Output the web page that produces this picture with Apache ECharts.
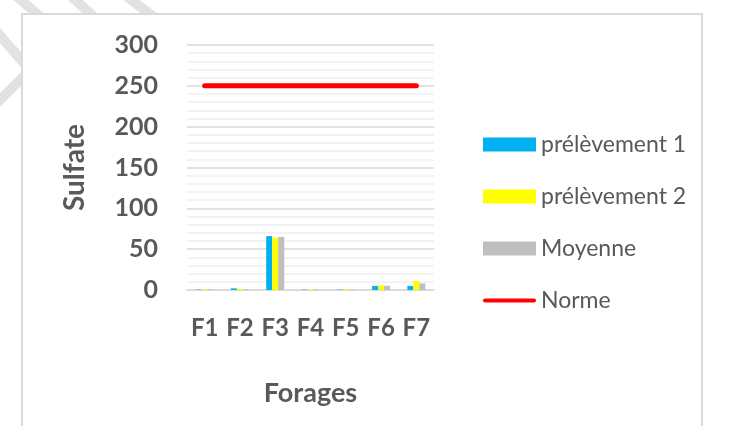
<!DOCTYPE html>
<html>
<head>
<meta charset="utf-8">
<script src="https://cdn.jsdelivr.net/npm/echarts@6/dist/echarts.min.js"></script>
<style>
  html, body { margin: 0; padding: 0; background: #fff; }
  #chart { width: 742px; height: 426px; }
</style>
</head>
<body>
<div id="chart"></div>
<script>
  // donnees du graphique
  var forages = ['F1', 'F2', 'F3', 'F4', 'F5', 'F6', 'F7'];
  var prelevement1 = [0.5, 2, 66, 0.5, 0.5, 5, 5];
  var prelevement2 = [1, 1.5, 64, 1, 1, 5.7, 11];
  var moyenne = [0.8, 1, 65, 0.7, 0.7, 5.2, 8];
  var norme = [250, 250, 250, 250, 250, 250, 250];

  var txt = '#595959';
  var font = 'Lato';

  var chart = echarts.init(document.getElementById('chart'));

  // bandes grises du filigrane (coin haut gauche)
  var stripes = [
    [15, -5, 50, 25], [70, -5, 95, 18], [125, -5, 155, 18],
    [-5, 30, 30, 70], [-5, 105, 30, 70]
  ];
  var graphics = stripes.map(function (s) {
    return {
      type: 'line', z: -10,
      shape: { x1: s[0], y1: s[1], x2: s[2], y2: s[3] },
      style: { stroke: '#e2e2e2', lineWidth: 10 }
    };
  });
  graphics.push({
    type: 'rect', z: -5,
    shape: { x: 22, y: 14, width: 680, height: 430 },
    style: { fill: '#fff', stroke: '#d9d9d9', lineWidth: 2 }
  });

  var option = {
    animation: false,
    textStyle: { fontFamily: font, color: txt },
    graphic: graphics,
    grid: { left: 187, right: 308, top: 45, bottom: 136 },
    legend: {
      orient: 'vertical',
      left: 478,
      top: 128,
      itemWidth: 53,
      itemHeight: 14,
      itemGap: 29,
      symbolKeepAspect: true,
      textStyle: { fontFamily: font, fontSize: 23, color: txt },
      data: [
        { name: 'prélèvement 1', icon: 'rect' },
        { name: 'prélèvement 2', icon: 'rect' },
        { name: 'Moyenne', icon: 'rect' },
        { name: 'Norme', icon: 'path://M2,0 L51,0 A2,2 0 0 1 51,4 L2,4 A2,2 0 0 1 2,0 Z' }
      ]
    },
    xAxis: {
      type: 'category',
      data: forages,
      name: 'Forages',
      nameLocation: 'middle',
      nameGap: 90,
      nameTextStyle: { fontFamily: font, fontSize: 27, fontWeight: 'bold', color: txt },
      axisLine: { lineStyle: { color: '#d9d9d9', width: 1.5 } },
      axisTick: { show: false },
      axisLabel: { fontFamily: font, fontSize: 24, fontWeight: 'bold', color: txt, margin: 26, interval: 0 }
    },
    yAxis: {
      type: 'value',
      min: 0,
      max: 300,
      interval: 50,
      name: 'Sulfate',
      nameLocation: 'middle',
      nameRotate: 90,
      nameGap: 98,
      nameTextStyle: { fontFamily: font, fontSize: 28, fontWeight: 'bold', color: txt },
      axisLine: { show: false },
      axisTick: { show: false },
      axisLabel: { fontFamily: font, fontSize: 25, fontWeight: 'bold', color: txt, margin: 29 },
      splitLine: { lineStyle: { color: '#d9d9d9', width: 1.5 } },
      minorTick: { show: false, splitNumber: 5 },
      minorSplitLine: { show: true, lineStyle: { color: '#f0f0f0', width: 1.5 } }
    },
    series: [
      { name: 'prélèvement 1', type: 'bar', data: prelevement1, barWidth: 6, barGap: '0%', itemStyle: { color: '#00b0f0' } },
      { name: 'prélèvement 2', type: 'bar', data: prelevement2, barWidth: 6, barGap: '0%', itemStyle: { color: '#ffff00' } },
      { name: 'Moyenne', type: 'bar', data: moyenne, barWidth: 6, barGap: '0%', itemStyle: { color: '#bfbfbf' } },
      {
        name: 'Norme', type: 'line', data: norme, symbol: 'none',
        lineStyle: { color: '#ff0000', width: 5, cap: 'round' },
        itemStyle: { color: '#ff0000' }
      }
    ]
  };
  chart.setOption(option);
</script>
</body>
</html>
